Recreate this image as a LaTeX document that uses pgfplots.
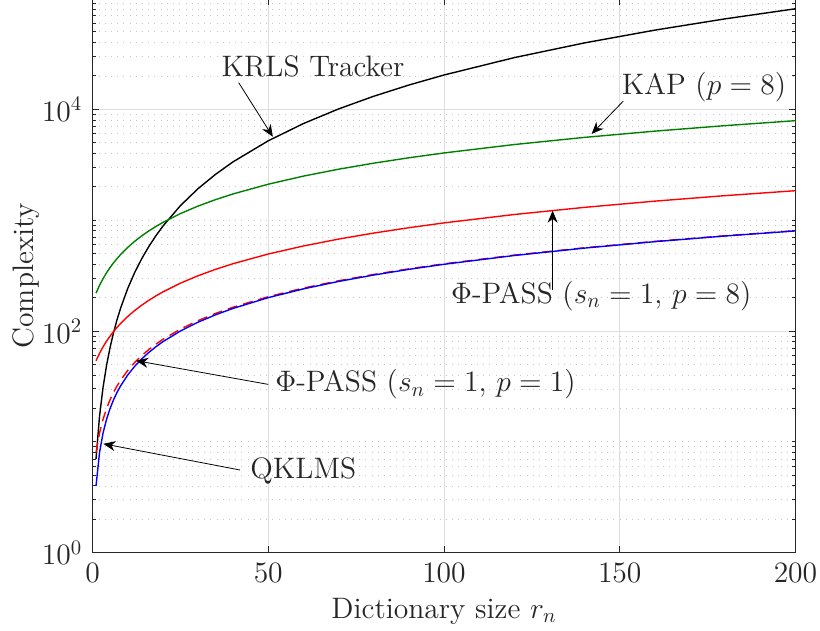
\RequirePackage{fix-cm}
\documentclass[border=0pt]{standalone}
\usepackage{pgfplots}
\usepackage{pgfplotstable}
\pgfplotsset{compat=1.18}
\usetikzlibrary{arrows.meta}

% Arithmetic complexity per iteration versus dictionary size
\pgfplotstableread{
r    krls    kap     passEight passOne qklms
1    7       219.6   54        8       4
2    17      258.2   63        12      8
3    31      296.8   72        16      12
4    49      335.4   81        20      16
5    71      374.0   90        24      20
6    97      412.6   99        28      24
7    127     451.2   108       32      28
8    161     489.8   117       36      32
10   241     567.0   135       44      40
12   337     644.2   153       52      48
14   449     721.4   171       60      56
16   577     798.6   189       68      64
18   721     875.8   207       76      72
20   881     953.0   225       84      80
25   1351    1146    270       104     100
30   1921    1339    315       124     120
35   2591    1532    360       144     140
40   3361    1725    405       164     160
50   5201    2111    495       204     200
60   7441    2497    585       244     240
70   10081   2883    675       284     280
80   13121   3269    765       324     320
90   16561   3655    855       364     360
100  20401   4041    945       404     400
120  29281   4813    1125      484     480
140  39761   5585    1305      564     560
160  51841   6357    1485      644     640
180  65521   7129    1665      724     720
200  80801   7901    1845      804     800
}\complexity

\definecolor{axisgray}{rgb}{0.15,0.15,0.15}
\definecolor{mgreen}{rgb}{0,0.5,0}

\begin{document}
\fontsize{14.8}{18}\selectfont
\begin{tikzpicture}
\begin{axis}[
  at={(0,0)}, anchor=south west,
  scale only axis,
  width=351.5pt, height=277.1pt,
  xmin=0, xmax=200,
  ymode=log, ymin=1, ymax=1e5,
  xtick={0,50,100,150,200},
  ytick={1,100,10000},
  minor ytick={2,3,4,5,6,7,8,9,10,20,30,40,50,60,70,80,90,200,300,400,500,600,700,800,900,1000,2000,3000,4000,5000,6000,7000,8000,9000,20000,30000,40000,50000,60000,70000,80000,90000},
  tick align=inside,
  major tick length=3.5pt, minor tick length=2pt,
  xmajorgrids, ymajorgrids, yminorgrids,
  major grid style={color=black!13, line width=0.4pt},
  minor grid style={color=black!22, line width=0.45pt, dash pattern=on 0.5pt off 2.6pt},
  axis line style={color=axisgray, line width=0.5pt},
  tick style={color=axisgray, line width=0.5pt},
  ticklabel style={color=axisgray},
  xlabel={Dictionary size $r_n$},
  ylabel={Complexity},
  xlabel style={at={(axis description cs:0.5,-0.118)}, anchor=base, color=axisgray},
  ylabel style={at={(axis description cs:-0.0846,0.5)}, anchor=base, color=axisgray},
  clip=false,
  every axis plot/.append style={line width=0.7pt},
]
\addplot[black, no markers] table[x=r, y=krls] {\complexity};
\addplot[mgreen, no markers] table[x=r, y=kap] {\complexity};
\addplot[red, no markers] table[x=r, y=passEight] {\complexity};
\addplot[red, no markers, dash pattern=on 5pt off 3pt] table[x=r, y=passOne] {\complexity};
\addplot[blue, no markers] table[x=r, y=qklms] {\complexity};

% annotations
\tikzset{annarrow/.style={draw=black, line width=0.4pt, -{Stealth[length=6pt,width=5pt]}}}
\node[anchor=base west, inner sep=0pt, text=axisgray] at (axis cs:36.6,19950) {KRLS Tracker};
\draw[annarrow] (axis cs:41.6,17380) -- (axis cs:51.3,5660);

\node[anchor=base west, inner sep=0pt, text=axisgray] at (axis cs:150.5,13740) {KAP ($p=8$)};
\draw[annarrow] (axis cs:151.0,11860) -- (axis cs:142.0,6000);

\node[anchor=base west, inner sep=0pt, text=axisgray] at (axis cs:101.9,177.8) {$\Phi$-PASS ($s_n=1$, $p=8$)};
\draw[annarrow] (axis cs:130.9,234) -- (axis cs:130.9,1217);

\node[anchor=base west, inner sep=0pt, text=axisgray] at (axis cs:51.9,28.3) {$\Phi$-PASS ($s_n=1$, $p=1$)};
\draw[annarrow] (axis cs:50.0,33.0) -- (axis cs:12.4,54.0);

\node[anchor=base west, inner sep=0pt, text=axisgray] at (axis cs:44.8,4.69) {QKLMS};
\draw[annarrow] (axis cs:42.0,5.57) -- (axis cs:3.1,9.6);
\end{axis}
\pgfresetboundingbox
\path[use as bounding box] (-46.25pt,-39.15pt) rectangle (363.75pt,276.35pt);
\end{tikzpicture}
\end{document}
